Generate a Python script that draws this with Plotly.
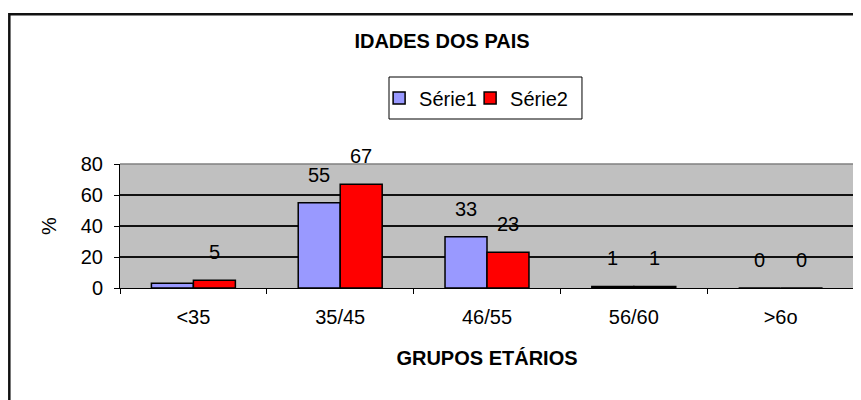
import plotly.graph_objects as go

categories = ["<35", "35/45", "46/55", "56/60", ">6o"]
serie1 = [3, 55, 33, 1, 0]
serie2 = [5, 67, 23, 1, 0]
serie1_labels = ["", "55", "33", "1", "0"]
serie2_labels = ["5", "67", "23", "1", "0"]
y_ticks = [0, 20, 40, 60, 80]

FONT = "Liberation Sans, Arial, sans-serif"

fig = go.Figure()
fig.add_trace(go.Bar(name="Série1", x=categories, y=serie1, legend="legend",
                     marker=dict(color="#9999FF", line=dict(color="black", width=1.5))))
fig.add_trace(go.Bar(name="Série2", x=categories, y=serie2, legend="legend2",
                     marker=dict(color="#FF0000", line=dict(color="black", width=1.5))))

annotations = []
for cat, v, t in zip(categories, serie1, serie1_labels):
    if t:
        annotations.append(dict(x=cat, y=v, xref="x", yref="y", text=t, showarrow=False,
                                xshift=-21, yshift=28, yanchor="middle",
                                font=dict(family=FONT, size=20, color="black")))
for cat, v, t in zip(categories, serie2, serie2_labels):
    if t:
        annotations.append(dict(x=cat, y=v, xref="x", yref="y", text=t, showarrow=False,
                                xshift=21, yshift=28, yanchor="middle",
                                font=dict(family=FONT, size=20, color="black")))

shapes = [
    # outer chart border
    dict(type="rect", xref="paper", yref="paper", x0=-0.1508, x1=1.05, y0=-1.0, y1=2.207,
         line=dict(color="#111111", width=2.5), fillcolor="rgba(0,0,0,0)", layer="below"),
    # legend box
    dict(type="rect", xref="paper", yref="paper", x0=0.3665, x1=0.6294, y0=1.3629, y1=1.7016,
         line=dict(color="black", width=1), fillcolor="white", layer="below"),
    # plot area border top / right (gray)
    dict(type="line", xref="paper", yref="paper", x0=0, x1=1, y0=1, y1=1,
         line=dict(color="#808080", width=1.5)),
    dict(type="line", xref="paper", yref="paper", x0=1, x1=1, y0=0, y1=1,
         line=dict(color="#808080", width=1.5)),
]

legend_common = dict(orientation="h", xanchor="left", xref="paper",
                     y=1.532, yanchor="middle", yref="paper",
                     borderwidth=0, bgcolor="rgba(0,0,0,0)",
                     font=dict(family=FONT, size=20, color="black"),
                     itemwidth=30)

fig.update_layout(
    width=853, height=392,
    margin=dict(l=112, r=7, t=156, b=112, autoexpand=False),
    paper_bgcolor="white", plot_bgcolor="#C0C0C0",
    font=dict(family=FONT, size=20, color="black"),
    barmode="group", bargap=0.428, bargroupgap=0,
    title=dict(text="<b>IDADES DOS PAIS</b>", x=0.5088, xref="container", xanchor="center",
               y=0.9158, yref="container", yanchor="middle",
               font=dict(family=FONT, size=20, color="black")),
    legend=dict(x=0.353, **legend_common),
    legend2=dict(x=0.477, **legend_common),
    annotations=annotations,
    shapes=shapes,
    xaxis=dict(title=dict(text="<b>GRUPOS ETÁRIOS</b>", standoff=23,
                          font=dict(family=FONT, size=20, color="black")),
               automargin=False,
               showline=True, linecolor="black", linewidth=1,
               ticks="outside", ticklen=5, tickcolor="black", tickson="boundaries",
               ticklabelstandoff=11,
               showgrid=False, tickfont=dict(family=FONT, size=20, color="black")),
    yaxis=dict(title=dict(text="%", standoff=18, font=dict(family=FONT, size=20, color="black")),
               automargin=False,
               range=[0, 80], tickvals=y_ticks, ticktext=[str(v) for v in y_ticks],
               showline=True, linecolor="black", linewidth=1,
               ticks="outside", ticklen=5, tickcolor="black", ticklabelstandoff=7,
               showgrid=True, gridcolor="#111111", gridwidth=1.5, zeroline=False,
               tickfont=dict(family=FONT, size=20, color="black")),
    showlegend=True,
)

fig.write_html("out.html")
